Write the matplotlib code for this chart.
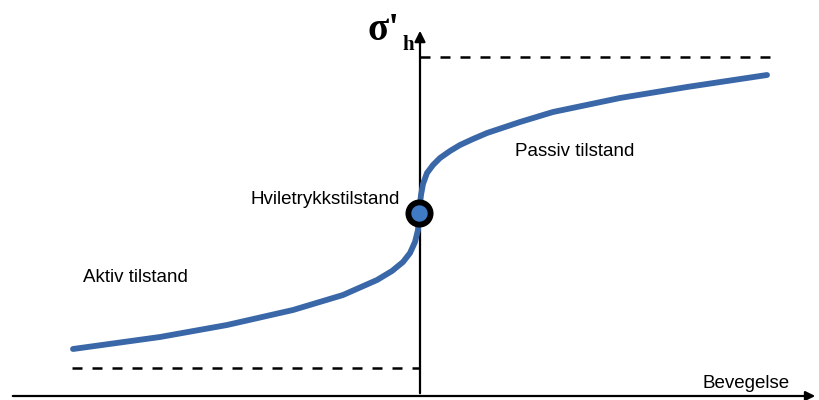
import matplotlib.pyplot as plt
from matplotlib.patches import FancyArrowPatch

plt.rcParams['font.family'] = ['Liberation Sans', 'DejaVu Sans']

# Curve points (x = movement, y = horizontal stress, pixel-like units)
curve_x = [73, 160, 227, 293, 343, 377, 392, 403, 410, 415, 418, 419, 421, 423, 427, 433,
           440, 450, 460, 473, 487, 520, 553, 620, 687, 767]
curve_y = [51, 63, 75, 90, 105, 120, 129, 138, 147, 158, 170, 187, 205, 216, 227, 235,
           242, 249, 255, 261, 267, 278, 288, 302, 313, 325]

rest_x, rest_y = 419, 187        # Hviletrykk point
passive_level = 343             # upper dashed line
active_level = 32               # lower dashed line
origin_x, origin_y = 420, 4

fig = plt.figure(figsize=(8.2, 4.0), dpi=100)
ax = fig.add_axes([0, 0, 1, 1])
ax.set_xlim(0, 820)
ax.set_ylim(0, 400)
ax.axis('off')

# axes with arrows
ax.add_patch(FancyArrowPatch((10, origin_y), (818, origin_y), arrowstyle='-|>', mutation_scale=14,
                             color='black', lw=1.6))
ax.add_patch(FancyArrowPatch((origin_x, origin_y), (origin_x, 372), arrowstyle='-|>', mutation_scale=16,
                             color='black', lw=1.6))

# limit lines
ax.plot([origin_x, 770], [passive_level, passive_level], 'k--', lw=1.8, dashes=(4, 4))
ax.plot([72, origin_x], [active_level, active_level], 'k--', lw=1.8, dashes=(4, 4))

# stress curve
ax.plot(curve_x, curve_y, color='#3A67A8', lw=4.2, solid_capstyle='round', solid_joinstyle='round')
ax.plot(rest_x, rest_y, 'o', ms=16, mfc='#3F7BC4', mec='black', mew=4.2)

# labels
ax.text(515, 248, 'Passiv tilstand', fontsize=13.5, ha='left', va='center')
ax.text(400, 200, 'Hviletrykkstilstand', fontsize=13.5, ha='right', va='center')
ax.text(83, 122, 'Aktiv tilstand', fontsize=13.5, ha='left', va='center')
ax.text(703, 17, 'Bevegelse', fontsize=13.5, ha='left', va='center')
ax.text(368, 370, "σ'", fontsize=28, fontweight='bold', family='Liberation Serif', ha='left', va='center')
ax.text(402, 355, 'h', fontsize=15, fontweight='bold', family='Liberation Serif', ha='left', va='center')

fig.savefig('out.png', dpi=100)
